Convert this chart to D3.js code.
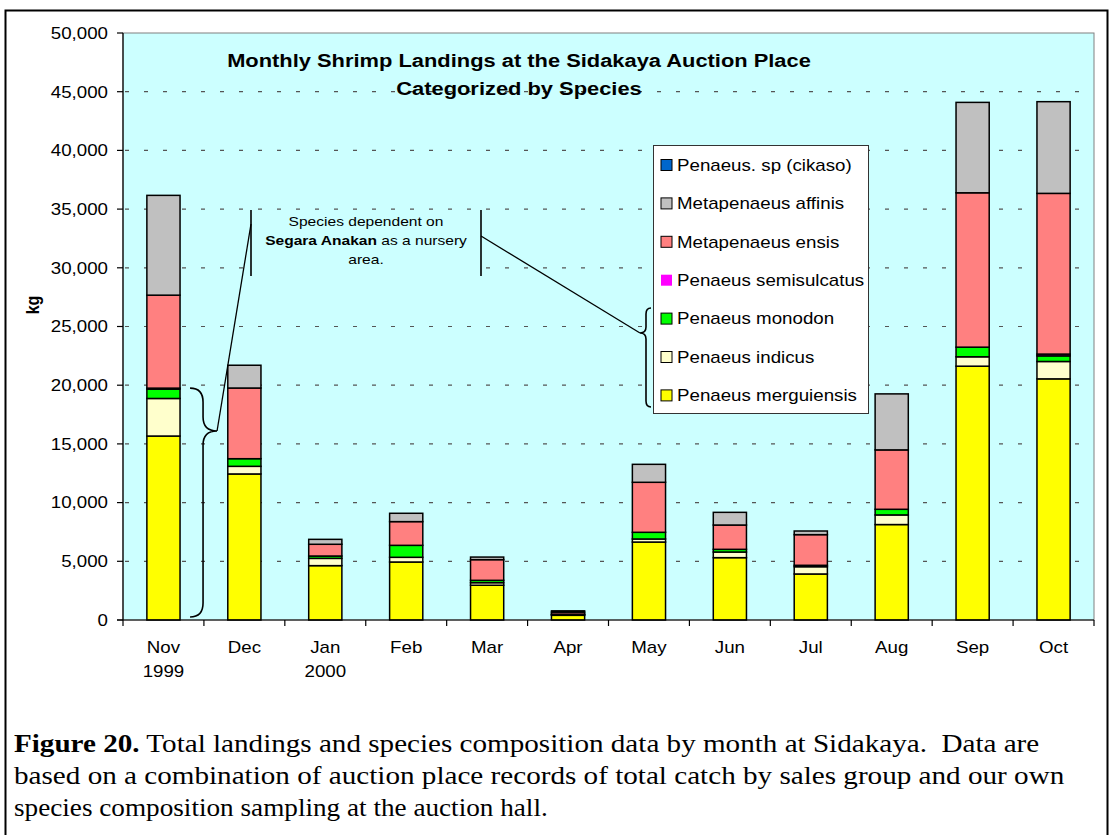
<!DOCTYPE html>
<html>
<head>
<meta charset="utf-8">
<script src="https://cdn.jsdelivr.net/npm/d3@7"></script>
<style>
  html, body { margin: 0; padding: 0; background: #fff; }
  svg { display: block; }
</style>
</head>
<body>
<svg id="chart" width="1112" height="835"></svg>
<script>
// months on the x axis (second line under Nov / Jan)
var months = ['Nov', 'Dec', 'Jan', 'Feb', 'Mar', 'Apr', 'May', 'Jun', 'Jul', 'Aug', 'Sep', 'Oct'];
var monthSub = ['1999', '', '2000', '', '', '', '', '', '', '', '', ''];

// kg landed per species
var merguiensis  = [15670, 12440, 4630, 4940, 2960, 400, 6640, 5310, 3920, 8130, 21620, 20540];
var indicus      = [3200, 650, 620, 400, 220, 60, 260, 480, 620, 820, 800, 1480];
var monodon      = [800, 650, 200, 1020, 200, 40, 570, 230, 120, 480, 820, 480];
var semisulcatus = [80, 0, 0, 0, 0, 0, 0, 0, 0, 0, 0, 150];
var ensis        = [7920, 6020, 1000, 2020, 1760, 170, 4260, 2070, 2610, 5060, 13150, 13690];
var affinis      = [8500, 1940, 420, 710, 220, 110, 1530, 1080, 310, 4770, 7700, 7810];
var cikaso       = [0, 0, 0, 0, 0, 0, 0, 0, 0, 0, 0, 0];

// bottom-up stacking order
var seriesKeys   = ['merguiensis', 'indicus', 'monodon', 'semisulcatus', 'ensis', 'affinis', 'cikaso'];
var seriesNames  = ['Penaeus merguiensis', 'Penaeus indicus', 'Penaeus monodon', 'Penaeus semisulcatus',
                    'Metapenaeus ensis', 'Metapenaeus affinis', 'Penaeus. sp (cikaso)'];
var seriesColors = ['#ffff00', '#ffffcc', '#00ff00', '#ff00ff', '#ff8080', '#c0c0c0', '#0066cc'];
var yTicks = [0, 5000, 10000, 15000, 20000, 25000, 30000, 35000, 40000, 45000, 50000];

var seriesData = {
  merguiensis: merguiensis, indicus: indicus, monodon: monodon, semisulcatus: semisulcatus,
  ensis: ensis, affinis: affinis, cikaso: cikaso
};
var table = months.map(function(m, i) {
  var row = { month: m };
  seriesKeys.forEach(function(k) { row[k] = seriesData[k][i]; });
  return row;
});

var SX = 1.17; // the source picture is stretched sideways
var SANS = "'Liberation Sans', Arial, sans-serif";
var SERIF = "'Liberation Serif', 'Times New Roman', serif";

var svg = d3.select('#chart');
var plot = { left: 123, right: 1094, top: 33, bottom: 620 };

var x = d3.scaleBand().domain(months).range([plot.left, plot.right]).padding(0);
var y = d3.scaleLinear().domain([0, 50000]).range([plot.bottom, plot.top]);
var barW = x.bandwidth() * 0.41;

function sText(parent, tx, ty, str, size, anchor, weight) {
  return parent.append('text')
    .attr('transform', 'translate(' + tx + ',' + ty + ') scale(' + SX + ',1)')
    .attr('text-anchor', anchor || 'start')
    .attr('font-family', SANS)
    .attr('font-size', size + 'px')
    .attr('font-weight', weight || 'normal')
    .attr('fill', '#000')
    .text(str);
}

// outer frame
svg.append('rect')
  .attr('x', 5.5).attr('y', 10.5).attr('width', 1102).attr('height', 840)
  .attr('fill', 'none').attr('stroke', '#000').attr('stroke-width', 2);

// plot area
svg.append('rect')
  .attr('x', plot.left).attr('y', plot.top)
  .attr('width', plot.right - plot.left).attr('height', plot.bottom - plot.top)
  .attr('fill', '#ccffff').attr('stroke', '#808080').attr('stroke-width', 1);

// dashed grid
svg.append('g').selectAll('line')
  .data(yTicks.filter(function(d) { return d > 0 && d < 50000; }))
  .enter().append('line')
  .attr('x1', plot.left + 2).attr('x2', plot.right)
  .attr('y1', function(d) { return y(d); }).attr('y2', function(d) { return y(d); })
  .attr('stroke', '#555').attr('stroke-width', 1.2)
  .attr('stroke-dasharray', '4,15');

// annotation text box (covers grid behind it)
var note = svg.append('g');
note.append('rect').attr('x', 253).attr('y', 212).attr('width', 226).attr('height', 62).attr('fill', '#ccffff');

// stacked bars
var stacked = d3.stack().keys(seriesKeys)(table);
svg.append('g').selectAll('g')
  .data(stacked)
  .enter().append('g')
  .attr('fill', function(d, i) { return seriesColors[i]; })
  .selectAll('rect')
  .data(function(d) { return d.filter(function(p) { return p[1] - p[0] > 0; }); })
  .enter().append('rect')
  .attr('x', function(d) { return x(d.data.month) + (x.bandwidth() - barW) / 2; })
  .attr('y', function(d) { return y(d[1]); })
  .attr('width', barW)
  .attr('height', function(d) { return y(d[0]) - y(d[1]); })
  .attr('stroke', '#000').attr('stroke-width', 1.5);

// y axis
var yAxis = svg.append('g');
yAxis.append('line').attr('x1', plot.left).attr('x2', plot.left)
  .attr('y1', plot.top).attr('y2', plot.bottom).attr('stroke', '#000').attr('stroke-width', 1.2);
yTicks.forEach(function(t) {
  yAxis.append('line').attr('x1', plot.left - 6).attr('x2', plot.left)
    .attr('y1', y(t)).attr('y2', y(t)).attr('stroke', '#000').attr('stroke-width', 1.2);
  sText(yAxis, 108, y(t) + 5.8, d3.format(',')(t), 16, 'end');
});
svg.append('text')
  .attr('transform', 'translate(39,305) rotate(-90) scale(1,' + SX + ')')
  .attr('text-anchor', 'middle')
  .attr('font-family', SANS).attr('font-size', '16px').attr('font-weight', 'bold')
  .text('kg');

// x axis
var xAxis = svg.append('g');
xAxis.append('line').attr('x1', plot.left - 6).attr('x2', plot.right)
  .attr('y1', plot.bottom).attr('y2', plot.bottom).attr('stroke', '#000').attr('stroke-width', 1.2);
months.forEach(function(m, i) {
  var x0 = x(m);
  xAxis.append('line').attr('x1', x0).attr('x2', x0)
    .attr('y1', plot.bottom).attr('y2', plot.bottom + 6).attr('stroke', '#000').attr('stroke-width', 1.2);
  var cx = x0 + x.bandwidth() / 2;
  sText(xAxis, cx, 653, m, 16, 'middle');
  if (monthSub[i]) sText(xAxis, cx, 676.5, monthSub[i], 16, 'middle');
});
xAxis.append('line').attr('x1', plot.right).attr('x2', plot.right)
  .attr('y1', plot.bottom).attr('y2', plot.bottom + 6).attr('stroke', '#000').attr('stroke-width', 1.2);

// title
sText(svg, 519, 66.5, 'Monthly Shrimp Landings at the Sidakaya Auction Place', 18.7, 'middle', 'bold');
sText(svg, 519, 94.5, 'Categorized by Species', 18.7, 'middle', 'bold');

// legend
var legend = svg.append('g');
legend.append('rect').attr('x', 653.5).attr('y', 145.5).attr('width', 215).attr('height', 268)
  .attr('fill', '#fff').attr('stroke', '#333').attr('stroke-width', 1);
var legendOrder = seriesKeys.slice().reverse();
legendOrder.forEach(function(k, i) {
  var idx = seriesKeys.indexOf(k);
  var cy = 165 + i * 38.4;
  legend.append('rect').attr('x', 661).attr('y', cy - 5.5).attr('width', 11).attr('height', 11)
    .attr('fill', seriesColors[idx])
    .attr('stroke', k === 'semisulcatus' ? 'none' : '#000').attr('stroke-width', 1);
  sText(legend, 677, cy + 5.8, seriesNames[idx], 16, 'start');
});

// annotation
var t1 = note.append('text')
  .attr('transform', 'translate(366,226) scale(' + SX + ',1)')
  .attr('text-anchor', 'middle').attr('font-family', SANS).attr('font-size', '13.3px');
t1.append('tspan').attr('x', 0).attr('y', 0).text('Species dependent on');
var l2 = t1.append('tspan').attr('x', 0).attr('y', 19);
l2.append('tspan').attr('font-weight', 'bold').text('Segara Anakan');
l2.append('tspan').text(' as a nursery');
t1.append('tspan').attr('x', 0).attr('y', 38).text('area.');

function brace(x0, xm, xt, y1, ty, y2, r) {
  return 'M' + x0 + ',' + y1 + ' Q' + xm + ',' + y1 + ' ' + xm + ',' + (y1 + r) +
    ' L' + xm + ',' + (ty - r) + ' Q' + xm + ',' + ty + ' ' + xt + ',' + ty +
    ' Q' + xm + ',' + ty + ' ' + xm + ',' + (ty + r) +
    ' L' + xm + ',' + (y2 - r) + ' Q' + xm + ',' + y2 + ' ' + x0 + ',' + y2;
}
var ann = svg.append('g').attr('fill', 'none').attr('stroke', '#000').attr('stroke-width', 1.6);
var novRight = x('Nov') + (x.bandwidth() + barW) / 2;
var novTop = y(merguiensis[0] + indicus[0] + monodon[0] + semisulcatus[0]);
var tipY = 431;
ann.append('path').attr('d', brace(novRight + 10, novRight + 23, novRight + 37, novTop, tipY, y(0) - 3, 14));
ann.append('path').attr('d', brace(651, 646, 640, 308, 333, 407, 6));
ann.append('line').attr('x1', 251).attr('x2', 251).attr('y1', 210).attr('y2', 276);
ann.append('line').attr('x1', 481).attr('x2', 481).attr('y1', 210).attr('y2', 276);
ann.append('line').attr('x1', novRight + 37).attr('y1', tipY).attr('x2', 251).attr('y2', 224).attr('stroke-width', 1.3);
ann.append('line').attr('x1', 481).attr('y1', 236).attr('x2', 640).attr('y2', 333).attr('stroke-width', 1.3);

// caption, each line fitted to the width it has in the source
var capLines = [
  [['Figure 20.', 'bold'], [' Total landings and species composition data by month at Sidakaya.  Data are', 'normal']],
  [['based on a combination of auction place records of total catch by sales group and our own', 'normal']],
  [['species composition sampling at the auction hall.', 'normal']]
];
var capY = [752, 784, 816];
var capW = [1026, 1051, 534];
capLines.forEach(function(parts, i) {
  var t = svg.append('text')
    .attr('font-family', SERIF).attr('font-size', '25px')
    .attr('xml:space', 'preserve').style('white-space', 'pre');
  parts.forEach(function(p) { t.append('tspan').attr('font-weight', p[1]).text(p[0]); });
  var sx = capW[i] / t.node().getComputedTextLength();
  t.attr('transform', 'translate(14,' + capY[i] + ') scale(' + sx + ',1)');
});
</script>
</body>
</html>
